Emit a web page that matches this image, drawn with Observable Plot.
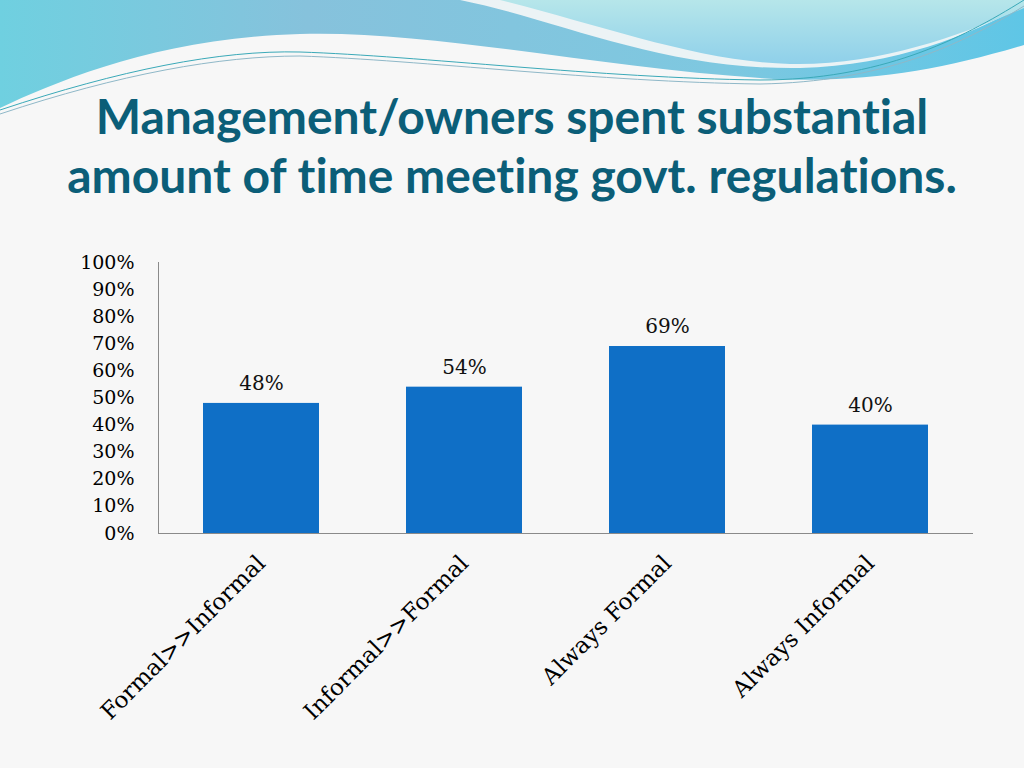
<!DOCTYPE html>
<html>
<head>
<meta charset="utf-8">
<script src="https://cdn.jsdelivr.net/npm/d3@7"></script>
<script src="https://cdn.jsdelivr.net/npm/@observablehq/plot@0.6"></script>
<style>
  html, body { margin: 0; padding: 0; }
  body { width: 1024px; height: 768px; overflow: hidden; background: #f7f7f7; position: relative; }
  #deco { position: absolute; left: 0; top: 0; }
  #title { position: absolute; left: 0; top: 86px; width: 1024px; text-align: center;
    font-family: Lato, "Open Sans", sans-serif; font-weight: 700; font-size: 48px; line-height: 59px;
    color: #0b5e78; margin: 0; font-variant-ligatures: none; font-feature-settings: "liga" 0; }
  #chart { position: absolute; left: 0; top: 240px; }
</style>
</head>
<body>
<svg id="deco" width="1024" height="120" viewBox="0 0 1024 120">
  <defs>
    <linearGradient id="g1" x1="0" y1="0" x2="1" y2="0">
      <stop offset="0" stop-color="#6fd0e0"/>
      <stop offset="0.3" stop-color="#86c2dc"/>
      <stop offset="0.7" stop-color="#7ec8e0"/>
      <stop offset="1" stop-color="#5fc6e6"/>
    </linearGradient>
    <linearGradient id="g2" x1="0" y1="0" x2="0" y2="1">
      <stop offset="0" stop-color="#b6e6ea"/>
      <stop offset="1" stop-color="#8fd0ea"/>
    </linearGradient>
  </defs>
  <path d="M0,0 L1024,0 L1024,45 C940,70 860,85 760,78 C600,68 430,30 300,34 C160,38 60,80 0,108 Z" fill="url(#g1)"/>
  <path d="M460,0 C560,20 660,70 800,68 C900,66 980,30 1024,5 L1024,0 Z" fill="#f7f7f7" opacity="0.9"/>
  <path d="M500,0 C600,25 700,62 790,64 C880,66 960,35 1024,8 L1024,0 Z" fill="url(#g2)"/>
  <path d="M0,110 C120,70 220,50 300,52 C420,56 600,78 760,80 C880,80 960,40 1024,0" fill="none" stroke="#3aa9b8" stroke-width="1"/>
  <path d="M0,114 C120,74 220,56 300,56 C420,60 600,82 760,84 C880,82 960,46 1024,6" fill="none" stroke="#8fb8c8" stroke-width="1"/>
</svg>
<h1 id="title">Management/owners spent substantial<br>amount of time meeting govt. regulations.</h1>
<div id="chart"></div>
<script>
const categories = ["Formal>>Informal", "Informal>>Formal", "Always Formal", "Always Informal"];
const values = [0.48, 0.54, 0.69, 0.40];
const valueLabels = ["48%", "54%", "69%", "40%"];
const yTicks = [0, 0.1, 0.2, 0.3, 0.4, 0.5, 0.6, 0.7, 0.8, 0.9, 1.0];

const data = categories.map((c, i) => ({category: c, value: values[i], label: valueLabels[i]}));
const serif = "'DejaVu Serif', 'Liberation Serif', serif";

const chart = Plot.plot({
  width: 1024,
  height: 528,
  marginLeft: 158,
  marginRight: 51,
  marginTop: 22,
  marginBottom: 235,
  style: {background: "transparent", fontFamily: serif, color: "#000"},
  x: {domain: categories, paddingInner: 0.431, paddingOuter: 0.2155, label: null},
  y: {domain: [0, 1], label: null},
  marks: [
    Plot.barY(data, {x: "category", y: "value", fill: "#0f6fc6"}),
    Plot.text(data, {x: "category", y: "value", text: "label", dy: -20, fontSize: 20, fill: "#111"}),
    Plot.ruleY([0], {stroke: "#8a8a8a", strokeWidth: 1}),
    Plot.frame({anchor: "left", stroke: "#8a8a8a"}),
    Plot.axisY({ticks: yTicks, tickFormat: d3.format(".0%"), tickSize: 0, tickPadding: 24, fontSize: 19, label: null}),
    Plot.axisX({tickSize: 0, tickRotate: -45, tickPadding: 26, fontSize: 23, label: null})
  ]
});
document.getElementById("chart").appendChild(chart);
</script>
</body>
</html>
